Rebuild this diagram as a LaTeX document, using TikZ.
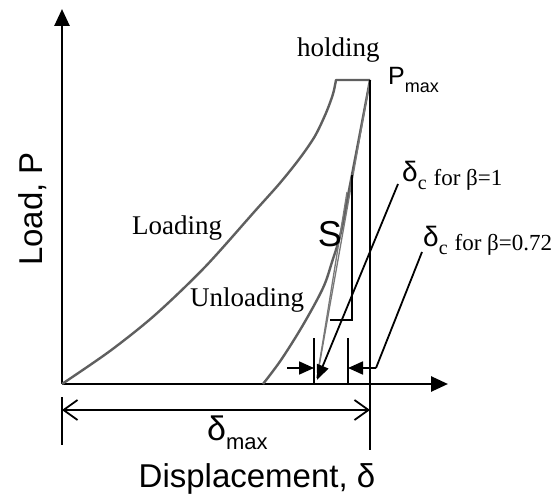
\documentclass[tikz,border=0pt]{standalone}
\usepackage{fontspec}
\setmainfont{Liberation Serif}
\newfontfamily\arialfam{Liberation Sans}
\usetikzlibrary{arrows.meta}
\definecolor{curvegray}{RGB}{95,95,95}
\definecolor{thingray}{RGB}{120,120,120}
\begin{document}
\begin{tikzpicture}[x=1pt,y=-1pt,
  curve/.style={draw=curvegray, line width=2.4pt, line join=round},
  thinline/.style={draw=thingray, line width=1.3pt},
  blk/.style={draw=black, line width=1.8pt},
  axisline/.style={draw=black, line width=2.6pt, -{Triangle[length=17pt,width=15pt]}},
  smallarrow/.style={blk, -{Triangle[length=15pt,width=13pt]}},
  dimarrow/.style={blk, {Straight Barb[length=14pt,width=20pt]}-{Straight Barb[length=14pt,width=20pt]}},
  serif/.style={inner sep=0pt, font=\fontsize{27}{30}\selectfont},
  sans/.style={inner sep=0pt, font=\arialfam\fontsize{33}{36}\selectfont}
]
\useasboundingbox (0,0) rectangle (558,495);
% coordinates
\coordinate (O) at (62,384);
\coordinate (Ytip) at (62,9);
\coordinate (Xtip) at (448,384);
\coordinate (Pm) at (370,80);
\coordinate (C) at (317,378);
\coordinate (Achord) at (347,192);
\coordinate (Stop) at (352,175);
\coordinate (Scorner) at (352,320);
\coordinate (Sleft) at (330,320);
\coordinate (Vbot) at (370,450);
\coordinate (T1top) at (314,338);
\coordinate (T1bot) at (314,384);
\coordinate (T2top) at (348,338);
\coordinate (T2bot) at (348,384);
\coordinate (LTtop) at (62,397);
\coordinate (LTbot) at (62,445);
\coordinate (A1s) at (287,368);
\coordinate (A1e) at (314,368);
\coordinate (A2s) at (376,368);
\coordinate (A2e) at (348,368);
\coordinate (L2top) at (422,252);
\coordinate (L1top) at (398,184);
\coordinate (L1end) at (317,380);
\coordinate (Dl) at (62,410);
\coordinate (Dr) at (370,410);

% axes
\draw[axisline] (O) -- (Ytip);
\draw[axisline] (O) -- (Xtip);

% loading + holding
\draw[curve] plot[smooth, tension=0.5] coordinates {(62,384) (110,351) (155,315) (205,267) (255,211) (280,183) (300,158) (315,136) (326,113) (333,94) (336,80)} -- (Pm);
% unloading
\draw[curve] plot[smooth, tension=0.55] coordinates {(370,80) (360,133) (350,185) (341,232) (332,262) (323,288) (303,325) (281,360) (263,384)};

% tangent lines
\draw[thinline] (Pm) -- (C);
\draw[thinline] (C) -- (Achord);

% S triangle
\draw[blk] (Stop) -- (Scorner) -- (Sleft);

% delta max vertical
\draw[blk] (Pm) -- (Vbot);

% ticks
\draw[blk] (T1top) -- (T1bot);
\draw[blk] (T2top) -- (T2bot);
\draw[blk] (LTtop) -- (LTbot);

% small arrows
\draw[smallarrow] (A1s) -- (A1e);
\draw[smallarrow] (A2s) -- (A2e);
\draw[blk] (A2s) -- (L2top);
\draw[blk, -{Triangle[length=15pt,width=12pt]}] (L1top) -- (L1end);

% delta max dimension
\draw[dimarrow] (Dl) -- (Dr);

% labels
\node[serif, anchor=base west] (holding) at (297,57) {holding};
\node[serif, anchor=base west] (loading) at (132,235) {Loading};
\node[serif, anchor=base west] (unloading) at (190,306) {Unloading};
\node[inner sep=0pt, anchor=base, font=\arialfam\fontsize{36}{38}\selectfont] (S) at (330,247) {S};
\node[inner sep=0pt, anchor=base west] (pmax) at (388,85) {\arialfam\fontsize{25}{27}\selectfont P\raisebox{-8pt}{\fontsize{18}{20}\selectfont max}};
\node[inner sep=0pt, anchor=base west] (dc1) at (402,182) {\arialfam\fontsize{28}{30}\selectfont δ\raisebox{-8pt}{\rmfamily\fontsize{20}{22}\selectfont c}\hspace{7pt}\rmfamily\fontsize{23}{25}\selectfont\raisebox{-4pt}{for β=1}};
\node[inner sep=0pt, anchor=base west] (dc2) at (423,247) {\arialfam\fontsize{28}{30}\selectfont δ\raisebox{-8pt}{\rmfamily\fontsize{20}{22}\selectfont c}\hspace{7pt}\rmfamily\fontsize{23}{25}\selectfont\raisebox{-4pt}{for β=0.72}};
\node[inner sep=0pt, anchor=base west] (dmax) at (207,440) {\arialfam\fontsize{34}{36}\selectfont δ\raisebox{-9pt}{\fontsize{22}{24}\selectfont max}};
\node[sans, anchor=base] (xlabel) at (257,487) {Displacement, δ};
\node[sans, anchor=base, rotate=90] (ylabel) at (42,209) {Load, P};
\end{tikzpicture}
\end{document}
